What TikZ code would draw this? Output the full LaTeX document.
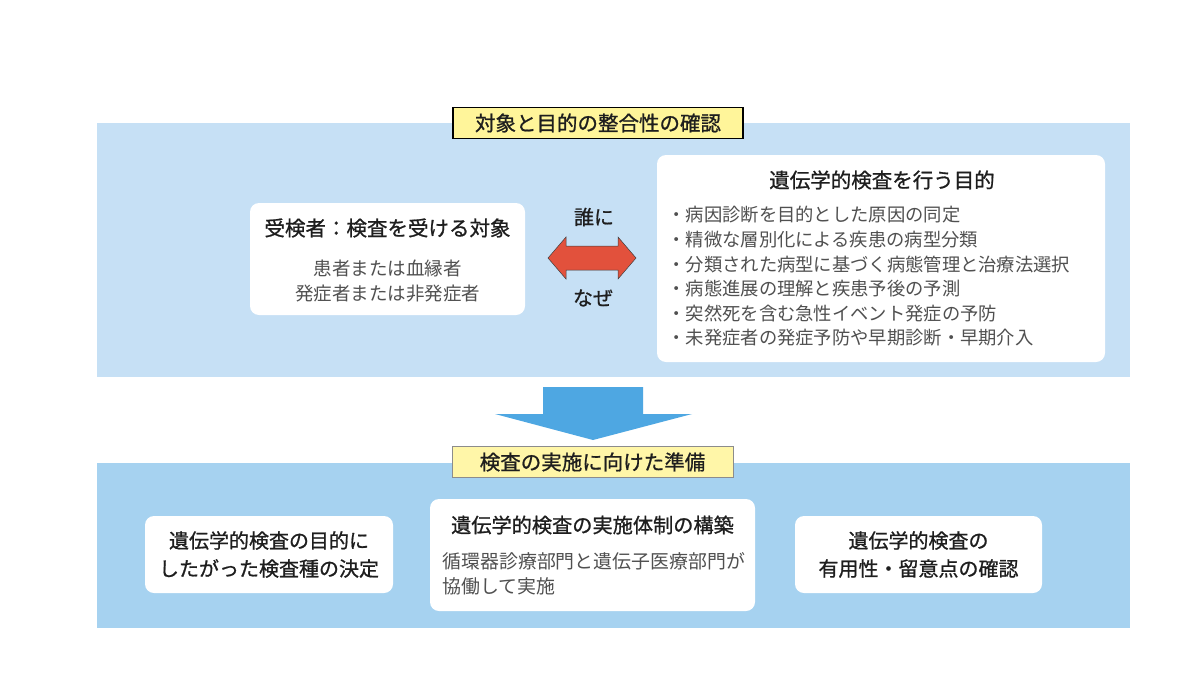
\documentclass[tikz,border=0pt]{standalone}
\usepackage{fontspec}
\setmainfont{Noto Sans CJK JP}
\newfontfamily\jpmed[FakeBold=0.9]{Noto Sans CJK JP}
\definecolor{bandA}{HTML}{C6E0F5}
\definecolor{bandB}{HTML}{A6D2F0}
\definecolor{labY}{HTML}{FFF59A}
\definecolor{labY2}{HTML}{FFF6A8}
\definecolor{arrR}{HTML}{E2513C}
\definecolor{arrB}{HTML}{4EA7E2}
\definecolor{txtD}{HTML}{1E1E1E}
\definecolor{txtG}{HTML}{505050}
\tikzset{
  wbox/.style={fill=white, rounded corners=9pt, draw=none},
  ttl/.style={font=\jpmed\fontsize{20.5}{24}\selectfont, text=txtD},
  body/.style={font=\fontsize{18.5}{25}\selectfont, text=txtG},
}
\begin{document}
\begin{tikzpicture}[x=1pt,y=-1pt]
\useasboundingbox (0,0) rectangle (1200,675);
\fill[white] (0,0) rectangle (1200,675);
% bands
\fill[bandA] (97,123) rectangle (1130,377);
\fill[bandB] (97,463) rectangle (1130,628);
% top label
\node[draw=black, line width=1.6pt, fill=labY, minimum width=290pt, minimum height=31pt, inner sep=0pt, font=\jpmed\fontsize{20.5}{24}\selectfont, text=txtD] (labA) at (598,123) {対象と目的の整合性の確認};
% left box
\fill[wbox] (250,203) rectangle (525,315);
\node[ttl, anchor=center] (subj) at (387.5,228) {受検者：検査を受ける対象};
\node[body, align=center] (subjb) at (387.5,281) {患者または血縁者\\発症者または非発症者};
% double arrow
\coordinate (dl) at (548,258);
\coordinate (dr) at (636,258);
\fill[arrR, draw=black!75, line width=0.5pt] (dl) -- (566,237) -- (566,246) -- (618,246) -- (618,237) -- (dr) -- (618,279) -- (618,270) -- (566,270) -- (566,279) -- cycle;
\node[ttl, font=\jpmed\fontsize{20}{22}\selectfont] (who) at (594,217) {誰に};
\node[ttl, font=\jpmed\fontsize{20}{22}\selectfont] (why) at (593,298) {なぜ};
% right box
\fill[wbox] (657,155) rectangle (1105,362);
\node[ttl] (purp) at (882,180) {遺伝学的検査を行う目的};
\node[body, align=left, anchor=north west, font=\fontsize{18.3}{24.6}\selectfont] (list) at (664,203) {・病因診断を目的とした原因の同定\\・精微な層別化による疾患の病型分類\\・分類された病型に基づく病態管理と治療法選択\\・病態進展の理解と疾患予後の予測\\・突然死を含む急性イベント発症の予防\\・未発症者の発症予防や早期診断・早期介入};
% down arrow
\coordinate (dtip) at (593,440);
\fill[arrB] (543,387) -- (643,387) -- (643,414) -- (692,414) -- (dtip) -- (495,414) -- (543,414) -- cycle;
% bottom label
\node[draw=black!45, line width=0.6pt, fill=labY2, minimum width=281pt, minimum height=31pt, inner sep=0pt, font=\jpmed\fontsize{20.5}{24}\selectfont, text=txtD] (labB) at (592.5,462) {検査の実施に向けた準備};
% bottom boxes
\fill[wbox] (145,516) rectangle (393,593);
\node[ttl, align=center, font=\jpmed\fontsize{20}{28}\selectfont] (b1) at (269,554.5) {遺伝学的検査の目的に\\したがった検査種の決定};
\fill[wbox] (430,499) rectangle (755,611);
\node[ttl, font=\jpmed\fontsize{20.2}{24}\selectfont] (b2) at (592.5,525) {遺伝学的検査の実施体制の構築};
\node[body, align=left, anchor=north west, font=\fontsize{18.9}{25}\selectfont] (b2b) at (439,549) {循環器診療部門と遺伝子医療部門が\\協働して実施};
\fill[wbox] (795,516) rectangle (1042,593);
\node[ttl, align=center, font=\jpmed\fontsize{20}{28}\selectfont] (b3) at (918.5,554.5) {遺伝学的検査の\\有用性・留意点の確認};
\end{tikzpicture}
\end{document}
